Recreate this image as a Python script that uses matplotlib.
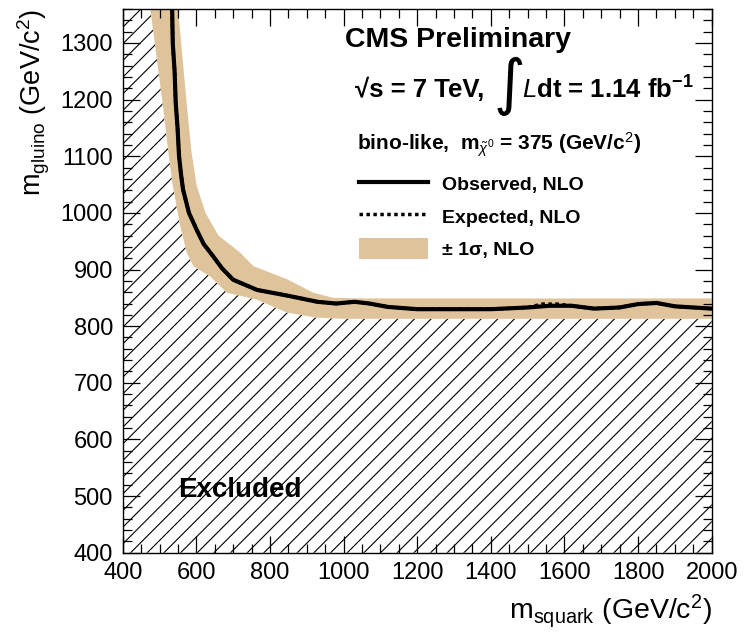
import matplotlib
matplotlib.use("Agg")
import matplotlib.pyplot as plt
from matplotlib.ticker import MultipleLocator

plt.rcParams['font.family'] = ['Liberation Sans', 'DejaVu Sans']
plt.rcParams['mathtext.fontset'] = 'custom'
plt.rcParams['mathtext.rm'] = 'Liberation Sans'
plt.rcParams['mathtext.it'] = 'Liberation Sans:italic'
plt.rcParams['mathtext.bf'] = 'Liberation Sans:bold'
plt.rcParams['hatch.linewidth'] = 0.8

# observed limit (NLO)
obs_x = [534, 536, 541, 544, 549, 553, 558, 564, 580, 601, 620, 645, 670, 700,
         765, 847, 929, 980, 1030, 1070, 1120, 1200, 1300, 1400, 1500, 1560,
         1620, 1680, 1750, 1800, 1850, 1900, 2000]
obs_y = [1370, 1300, 1250, 1194, 1150, 1101, 1070, 1041, 1000, 970, 945, 924, 902, 882,
         864, 854, 843, 840, 843, 840, 834, 830, 830, 830, 833, 836,
         836, 831, 833, 839, 841, 835, 831]

# expected limit (NLO), almost on top of the observed one
exp_x = [534, 536, 541, 544, 549, 553, 558, 564, 580, 601, 620, 645, 670, 700,
         765, 847, 929, 980, 1030, 1070, 1120, 1200, 1300, 1400, 1500, 1540,
         1580, 1620, 1680, 1750, 1800, 1850, 1900, 2000]
exp_y = [1370, 1300, 1250, 1194, 1150, 1101, 1070, 1041, 1000, 970, 945, 924, 902, 882,
         864, 854, 843, 840, 843, 840, 834, 830, 830, 830, 833, 839,
         839, 836, 831, 833, 839, 841, 835, 831]

# +-1 sigma band edges
band_hi_x = [549, 575, 587, 601, 625, 660, 719, 755, 846, 918, 972, 1050, 2000]
band_hi_y = [1370, 1185, 1107, 1048, 1000, 960, 930, 906, 883, 859, 850, 849, 849]
band_lo_x = [473, 510, 524, 536, 556, 574, 592, 637, 683, 764, 846, 927, 1000, 2000]
band_lo_y = [1370, 1185, 1107, 1048, 977, 930, 906, 888, 859, 847, 824, 815, 813, 813]

x_min, x_max = 400, 2000
y_min, y_max = 400, 1360

fig = plt.figure(figsize=(7.45, 6.35), dpi=100)
ax = fig.add_axes([0.1647, 0.1296, 0.7906, 0.8562])

# excluded region (hatched), below the band
ex_x = band_lo_x + [x_max, x_min, x_min]
ex_y = band_lo_y + [y_min, y_min, band_lo_y[0]]
ax.fill(ex_x, ex_y, facecolor='none', edgecolor='black', hatch='//', linewidth=0)

band = ax.fill(band_hi_x + band_lo_x[::-1], band_hi_y + band_lo_y[::-1],
               color='#dfc49b', linewidth=0, label='± 1σ, NLO')[0]
obs, = ax.plot(obs_x, obs_y, color='black', lw=3, label='Observed, NLO')
exp, = ax.plot(exp_x, exp_y, color='black', lw=2.5, ls=(0, (1, 1)),
               label='Expected, NLO')

ax.set_xlim(x_min, x_max)
ax.set_ylim(y_min, y_max)
ax.xaxis.set_major_locator(MultipleLocator(200))
ax.xaxis.set_minor_locator(MultipleLocator(50))
ax.yaxis.set_major_locator(MultipleLocator(100))
ax.yaxis.set_minor_locator(MultipleLocator(20))
ax.tick_params(which='both', direction='in', top=True, right=True, width=0.9,
               labelsize=17)
ax.tick_params(which='major', length=12)
ax.tick_params(which='minor', length=6.5)
ax.tick_params(axis='x', pad=7)
ax.tick_params(axis='y', pad=7)
for s in ax.spines.values():
    s.set_linewidth(1.0)

ax.set_xlabel(r'm$_{\mathrm{squark}}$ (GeV/c$^{2}$)', fontsize=20.5, loc='right',
              labelpad=6)
ax.set_ylabel(r'm$_{\mathrm{gluino}}$ (GeV/c$^{2}$)', fontsize=19.5, loc='top',
              labelpad=6)

ax.text(0.377, 0.943, 'CMS Preliminary', transform=ax.transAxes, fontsize=20.5,
        fontweight='bold', va='center', ha='left')
ax.text(0.394, 0.851, '√s = 7 TeV,', transform=ax.transAxes, fontsize=18.5,
        fontweight='bold', va='center', ha='left')
ax.text(0.630, 0.858, '∫', transform=ax.transAxes, fontsize=44,
        va='center', ha='left', family='DejaVu Sans')
ax.text(0.678, 0.851, r'$\mathit{L}$dt = 1.14 fb$^{\mathbf{-1}}$', transform=ax.transAxes,
        fontsize=18.5, fontweight='bold', va='center', ha='left')
ax.text(0.398, 0.750, r'bino-like,  m$_{\tilde{\chi}^{0}}$ = 375 (GeV/c$^{2}$)',
        transform=ax.transAxes, fontsize=15, fontweight='bold', va='center',
        ha='left')

ax.text(0.094, 0.115, 'Excluded', transform=ax.transAxes, fontsize=20,
        fontweight='bold', va='center', ha='left')

leg = ax.legend(handles=[obs, exp, band],
                loc='upper left', bbox_to_anchor=(0.402, 0.698), frameon=False,
                prop={'weight': 'bold', 'size': 14}, handlelength=3.5,
                handleheight=1.25, handletextpad=0.75, labelspacing=0.6,
                borderpad=0, borderaxespad=0)

fig.savefig('out.png', dpi=100)
